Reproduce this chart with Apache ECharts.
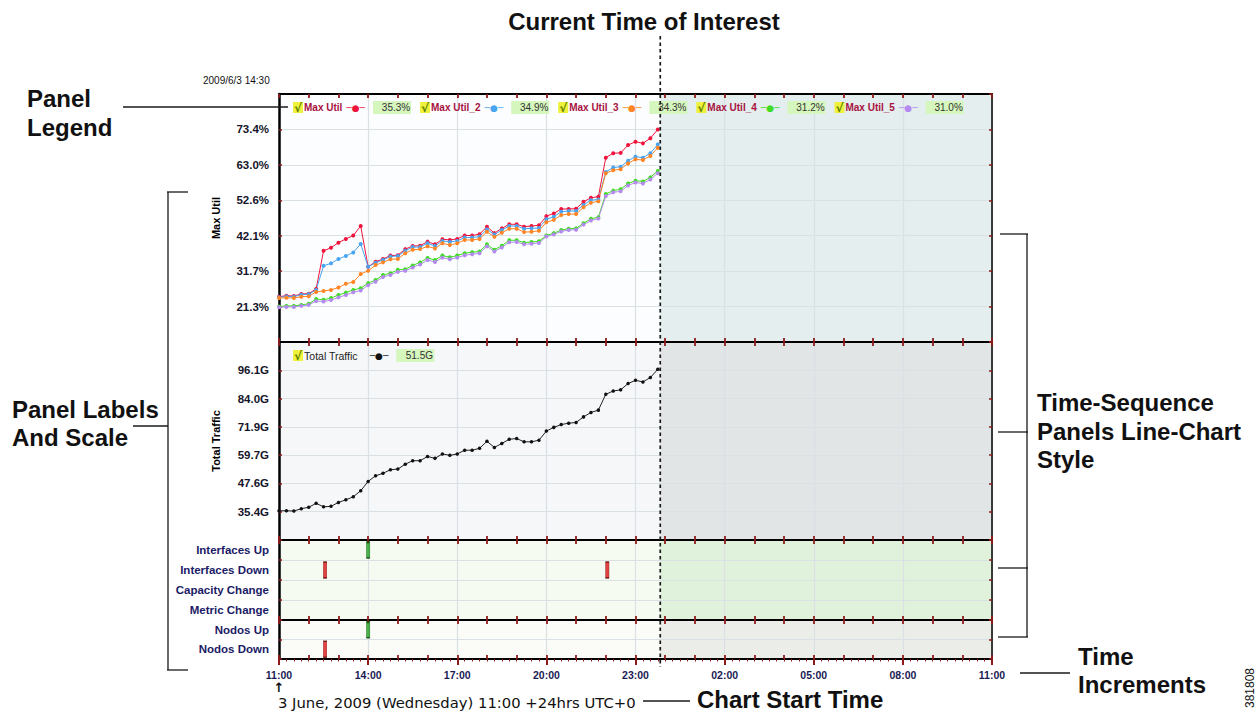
<!DOCTYPE html>
<html><head><meta charset="utf-8">
<script src="https://cdn.jsdelivr.net/npm/echarts@6/dist/echarts.min.js"></script>
<style>html,body{margin:0;padding:0;background:#fff}#c{width:1259px;height:713px}</style>
</head><body><div id="c"></div>
<script>
// ---------------- data ----------------
const startTime = '11:00';           // chart start (3 June 2009)
const stepMinutes = 15;              // sample spacing of the time series
const currentTime = '23:50';         // current time of interest
const xTickLabels = ['11:00','14:00','17:00','20:00','23:00','02:00','05:00','08:00','11:00'];

const utilNames = ['Max Util','Max Util_2','Max Util_3','Max Util_4','Max Util_5'];
const utilLegendValues = ['35.3%','34.9%','34.3%','31.2%','31.0%'];
const utilTickLabels = ['21.3%','31.7%','42.1%','52.6%','63.0%','73.4%'];

const maxUtil1 = [24.2,24.5,24.4,25.0,25.1,26.5,37.7,38.6,40.1,41.2,42.2,45.0,33.0,34.5,35.3,36.3,36.4,38.2,39.1,39.2,40.4,39.6,41.1,40.9,41.2,42.2,42.2,42.6,44.8,42.9,44.3,45.5,45.5,44.8,45.0,45.2,47.9,48.7,50.0,50.0,50.1,52.1,53.3,53.6,65.1,66.4,66.5,68.8,69.8,69.3,70.8,73.4];
const maxUtil2 = [24.0,24.3,24.2,24.8,24.9,26.2,33.3,34.0,35.3,36.2,37.2,39.7,33.0,34.2,35.0,36.0,36.2,37.7,38.8,38.8,39.9,39.1,40.6,40.3,40.6,41.6,41.6,41.9,44.0,42.5,43.8,45.0,45.0,44.2,44.3,44.4,47.0,47.7,49.2,49.4,49.4,51.2,52.6,52.8,60.9,62.2,62.4,64.2,65.4,65.1,66.4,69.0];
const maxUtil3 = [23.8,23.9,23.8,24.2,24.3,25.6,25.9,26.2,26.9,28.0,28.5,30.9,31.8,33.5,34.3,35.2,35.3,37.0,38.0,38.2,39.0,38.4,39.9,39.4,39.9,40.9,40.9,41.2,43.3,41.8,43.0,44.2,44.2,43.2,43.3,43.6,46.1,46.8,48.2,48.5,48.5,50.5,51.8,52.3,60.5,61.4,61.7,63.4,64.6,64.4,65.6,68.0];
const maxUtil4 = [21.3,21.5,21.5,21.8,22.1,23.5,23.3,23.8,24.7,25.4,26.2,26.7,28.2,29.1,30.6,31.1,32.1,32.3,33.4,34.3,35.6,35.0,36.3,35.8,36.3,37.0,37.3,37.5,39.6,38.0,39.2,40.8,40.8,40.1,40.3,40.5,42.2,42.9,43.8,44.2,44.3,45.8,47.1,47.6,54.4,55.4,55.8,57.5,58.3,58.1,59.3,61.2];
const maxUtil5 = [21.1,21.2,21.2,21.5,21.8,22.9,22.8,23.2,24.0,24.7,25.5,26.0,27.6,28.6,30.0,30.6,31.5,31.8,32.8,33.7,35.0,34.4,35.7,35.2,35.7,36.4,36.7,37.0,39.0,37.5,38.7,40.2,40.3,39.6,39.8,40.0,41.9,42.5,43.4,43.8,43.9,45.4,46.6,47.2,53.8,54.9,55.2,56.9,57.8,57.5,58.7,60.5];

const trafficName = 'Total Traffic';
const trafficLegendValue = '51.5G';
const trafficTickLabels = ['35.4G','47.6G','59.7G','71.9G','84.0G','96.1G'];
const totalTraffic = [35.8,35.8,35.7,36.7,37.3,39.0,37.5,37.7,39.4,40.5,41.8,44.4,48.4,50.8,51.9,53.4,53.7,55.8,57.3,57.3,59.1,58.3,60.2,59.6,60.2,61.8,61.8,62.6,65.6,63.0,64.7,66.5,66.8,65.4,65.4,66.1,70.0,71.6,72.8,73.4,73.7,76.1,78.0,79.0,85.8,87.2,87.7,90.4,91.8,91.1,93.0,96.5];

const eventRowsA = ['Interfaces Up','Interfaces Down','Capacity Change','Metric Change'];
const eventRowsB = ['Nodos Up','Nodos Down'];
const eventsA = [['14:00','Interfaces Up','up'],['12:33','Interfaces Down','down'],['22:03','Interfaces Down','down']];
const eventsB = [['14:00','Nodos Up','up'],['12:33','Nodos Down','down']];

// ---------------- styling ----------------
const utilColors = ['#f0143c','#48a4f0','#ff8424','#3fdc22','#b48af0'];
const tickRed = '#8e1b1b';
const gridLine = '#dae1e4';
const panelBg = [['#fbfdfe','#e4eeee'],['#f5f7f9','#e2e5e6'],['#f5fbf1','#e0f2dc'],['#fbfbf7','#ebeee8']];
const FONT = 'Liberation Sans';

const toMin = s => { const [h,m] = s.split(':').map(Number); const [h0,m0] = startTime.split(':').map(Number); return ((h*60+m) - (h0*60+m0) + 1440) % 1440; };
const series2pts = vals => vals.map((v,i) => [i*stepMinutes, v]);
const num = s => parseFloat(s);
function scaleFrom(labels){ const a = num(labels[0]), b = num(labels[labels.length-1]); const iv = (b-a)/(labels.length-1); return {min: a-iv, max: b+iv, interval: iv}; }
function labelFmt(labels, iv){ return v => { for (const L of labels) if (Math.abs(num(L)-v) < iv/3) return L; return ''; }; }

const grids = [
  {left:279, top:94, width:713, height:248},
  {left:279, top:342, width:713, height:198},
  {left:279, top:540, width:713, height:80},
  {left:279, top:620, width:713, height:39}
];

function X(gi, pos, split){
  return {type:'value', gridIndex:gi, position:pos, min:0, max:1440, interval:180, z:2,
    axisLine:{show:true, onZero:false, lineStyle:{color:'#000', width:2}},
    axisTick:{show:true, inside:true, length:4, lineStyle:{color:tickRed, width:1.8}},
    minorTick:{show:true, splitNumber:3, length:4, lineStyle:{color:tickRed, width:1.8}},
    axisLabel:{show:false}, splitLine:{show:!!split, lineStyle:{color:gridLine, width:1.2}}, minorSplitLine:{show:false}};
}
const xAxes = [X(0,'top',true),X(0,'bottom'),X(1,'top',true),X(1,'bottom'),X(2,'top',true),X(2,'bottom'),X(3,'top',true),X(3,'bottom'),
  {type:'value', gridIndex:3, position:'bottom', min:0, max:1440, interval:180, z:2,
    axisLine:{show:true, onZero:false, lineStyle:{color:'#000', width:2}},
    axisTick:{show:true, inside:false, length:6, lineStyle:{color:tickRed, width:2}},
    minorTick:{show:true, splitNumber:12, length:2.5, lineStyle:{color:tickRed, width:1}},
    axisLabel:{show:true, margin:10, formatter: v => xTickLabels[Math.round(v/180)] || '', color:'#1a1a55', fontWeight:'bold', fontSize:10.5, fontFamily:FONT},
    splitLine:{show:false}}
];

const s0 = scaleFrom(utilTickLabels), s1 = scaleFrom(trafficTickLabels);
function YV(gi, sc, labels, name){
  return [{type:'value', gridIndex:gi, position:'left', min:sc.min, max:sc.max, interval:sc.interval, z:2,
    axisLine:{show:true, onZero:false, lineStyle:{color:'#000', width:2.5}},
    axisTick:{show:true, inside:true, length:3, lineStyle:{color:tickRed, width:1.5}},
    axisLabel:{show:true, margin:10, formatter: labelFmt(labels, sc.interval), color:'#15152a', fontWeight:'bold', fontSize:11.5, fontFamily:FONT, showMinLabel:false, showMaxLabel:false},
    splitLine:{show:true, lineStyle:{color:gridLine, width:1}},
    name:name, nameLocation:'middle', nameGap:58, nameTextStyle:{color:'#000', fontWeight:'bold', fontSize:11, fontFamily:FONT}},
   {type:'value', gridIndex:gi, position:'right', min:sc.min, max:sc.max, interval:sc.interval, z:2,
    axisLine:{show:true, onZero:false, lineStyle:{color:'#000', width:1.5}},
    axisTick:{show:true, inside:true, length:3, lineStyle:{color:tickRed, width:1.5}},
    axisLabel:{show:false}, splitLine:{show:false}}];
}
function YC(gi, rows){
  return [{type:'category', gridIndex:gi, position:'left', data:rows, inverse:true, z:2,
    axisLine:{show:true, onZero:false, lineStyle:{color:'#000', width:2.5}},
    axisTick:{show:true, inside:true, length:3, lineStyle:{color:tickRed, width:1.5}},
    axisLabel:{show:true, margin:10, color:'#1b1b66', fontWeight:'bold', fontSize:11.5, fontFamily:FONT},
    splitLine:{show:true, lineStyle:{color:gridLine, width:1}}},
   {type:'category', gridIndex:gi, position:'right', data:rows, inverse:true, z:2,
    axisLine:{show:true, onZero:false, lineStyle:{color:'#000', width:1.5}},
    axisTick:{show:true, inside:true, length:3, lineStyle:{color:tickRed, width:1.5}},
    axisLabel:{show:false}, splitLine:{show:false}}];
}
const yAxes = [...YV(0, s0, utilTickLabels, 'Max Util'), ...YV(1, s1, trafficTickLabels, 'Total Traffic'), ...YC(2, eventRowsA), ...YC(3, eventRowsB)];

const cur = toMin(currentTime);
function bgSeries(gi, yVal){
  return {type:'scatter', name:'_bg'+gi, xAxisIndex:gi*2, yAxisIndex:gi*2, data:[[0, yVal]], symbolSize:0, silent:true, z:1,
    markArea:{silent:true, data:[
      [{xAxis:0, itemStyle:{color:panelBg[gi][0]}}, {xAxis:cur}],
      [{xAxis:cur, itemStyle:{color:panelBg[gi][1]}}, {xAxis:1440}]]}};
}
const utilData = [maxUtil1, maxUtil2, maxUtil3, maxUtil4, maxUtil5];
const series = [
  bgSeries(0, s0.min), bgSeries(1, s1.min), bgSeries(2, eventRowsA[0]), bgSeries(3, eventRowsB[0]),
  ...utilData.map((d,i) => ({type:'line', name:utilNames[i], xAxisIndex:0, yAxisIndex:0, z:3, data:series2pts(d),
    symbol:'circle', symbolSize:4, showSymbol:true, lineStyle:{width:1, color:utilColors[i]}, itemStyle:{color:utilColors[i]}})),
  {type:'line', name:trafficName, xAxisIndex:2, yAxisIndex:2, z:3, data:series2pts(totalTraffic),
    symbol:'circle', symbolSize:3.5, lineStyle:{width:1, color:'#222'}, itemStyle:{color:'#111'}},
];
function evSeries(gi, evs, kind){
  const up = kind === 'up';
  return {type:'scatter', name:'_ev'+gi+kind, xAxisIndex:gi*2, yAxisIndex:gi*2, z:3, symbol:'rect', symbolSize:[3.5, 16],
    data: evs.filter(e => e[2] === kind).map(e => [toMin(e[0]), e[1]]),
    itemStyle:{color: up ? '#1fa31f' : '#dd1515', borderColor: up ? '#0b3d0b' : '#5a0a0a', borderWidth:0.8}};
}
series.push(evSeries(2, eventsA, 'up'), evSeries(2, eventsA, 'down'), evSeries(3, eventsB, 'up'), evSeries(3, eventsB, 'down'));

const rich = {
  chk:{color:'#5b7d00', backgroundColor:'#eef23c', fontSize:12, fontWeight:'bold', fontFamily:'DejaVu Sans', width:10, height:11, lineHeight:11, align:'center'},
  nm:{color:'#a8123e', fontSize:10, fontWeight:'bold', fontFamily:FONT, padding:[0,0,0,1]},
  nmT:{color:'#222', fontSize:10.5, fontFamily:FONT, padding:[0,0,0,1]},
  val:{color:'#333', backgroundColor:'#d5f6bd', fontSize:10, fontFamily:FONT, width:30, height:13, lineHeight:13, padding:[0,0,0,8]},
  lnT:{color:'#111', fontSize:9, fontFamily:'DejaVu Sans', padding:[0,8,0,12]}
};
utilColors.forEach((c,i) => rich['ln'+i] = {color:c, fontSize:9, fontFamily:'DejaVu Sans', padding:[0,8,0,4]});

const option = {
  animation:false,
  backgroundColor:'#ffffff',
  textStyle:{fontFamily:FONT},
  grid: grids.map(g => Object.assign({show:false, containLabel:false}, g)),
  xAxis: xAxes, yAxis: yAxes, series: series,
  legend:[
    {data:utilNames, left:284, top:96, itemGap:4, itemWidth:0, itemHeight:0, icon:'rect', selectedMode:false, padding:[5,4],
     formatter: n => { const i = utilNames.indexOf(n); return `{chk|√}{nm|${n}}{ln${i}|─●─}{val|${utilLegendValues[i]}}`; },
     textStyle:{rich:rich}},
    {data:[trafficName], left:284, top:344, itemWidth:0, itemHeight:0, icon:'rect', selectedMode:false, padding:[5,4],
     formatter: n => `{chk|√}{nmT|${n}}{lnT|─●─}{val|${trafficLegendValue}}`,
     textStyle:{rich:rich}}
  ]
};

const chart = echarts.init(document.getElementById('c'), null, {renderer:'svg', width:1259, height:713});
chart.setOption(option);

const cx = chart.convertToPixel({xAxisIndex:0}, cur);
const B = 'bold 24px "Liberation Sans"';
function T(text, x, y, font, align, extra){ return Object.assign({type:'text', z:50, style:{text, x, y, font, fill:'#111', align:align||'left', textAlign:align||'left', verticalAlign:'middle', textVerticalAlign:'middle'}}, extra||{}); }
function Ln(x1,y1,x2,y2,w,dash){ return {type:'line', z:50, shape:{x1,y1,x2,y2}, style:{stroke:'#1a1a1a', lineWidth:w||1.5, lineDash:dash||null}}; }
chart.setOption({graphic:[
  T('Current Time of Interest', 644, 21, B, 'center'),
  Ln(cx, 36, cx, 667, 1.7, [3.5,3]),
  T('2009/6/3 14:30', 203, 80, '10px "Liberation Sans"', 'left'),
  T('Panel', 27, 98, B), T('Legend', 27, 127, B),
  Ln(123, 107, 288, 107, 1.3),
  T('Panel Labels', 12, 409, B), T('And Scale', 12, 437, B),
  Ln(168, 192, 168, 670, 1.3), Ln(167, 192, 188, 192, 1.3), Ln(167, 670, 188, 670, 1.3), Ln(133, 426, 168, 426, 1.3),
  T('Time-Sequence', 1037, 402, B), T('Panels Line-Chart', 1037, 431, B), T('Style', 1037, 459, B),
  Ln(1027, 234, 1027, 637, 1.3), Ln(1000, 234, 1028, 234, 1.3), Ln(998, 432, 1028, 432, 1.3), Ln(998, 568, 1028, 568, 1.3), Ln(998, 637, 1028, 637, 1.3),
  T('Time', 1078, 656, B), T('Increments', 1078, 684, B),
  Ln(1020, 673, 1070, 673, 1.3),
  T('↑', 279, 687, 'bold 13px "DejaVu Sans"', 'center'),
  T('3 June, 2009 (Wednesday) 11:00 +24hrs UTC+0', 278, 702, '14.8px "DejaVu Sans"', 'left'),
  Ln(643, 701, 690, 701, 1.3),
  T('Chart Start Time', 697, 699, B),
  {type:'text', z:50, x:1250, y:688, rotation: Math.PI/2,
   style:{text:'381808', x:0, y:0, font:'12px "Liberation Sans"', fill:'#111', align:'center', textAlign:'center', verticalAlign:'middle', textVerticalAlign:'middle'}}
]});
</script></body></html>
